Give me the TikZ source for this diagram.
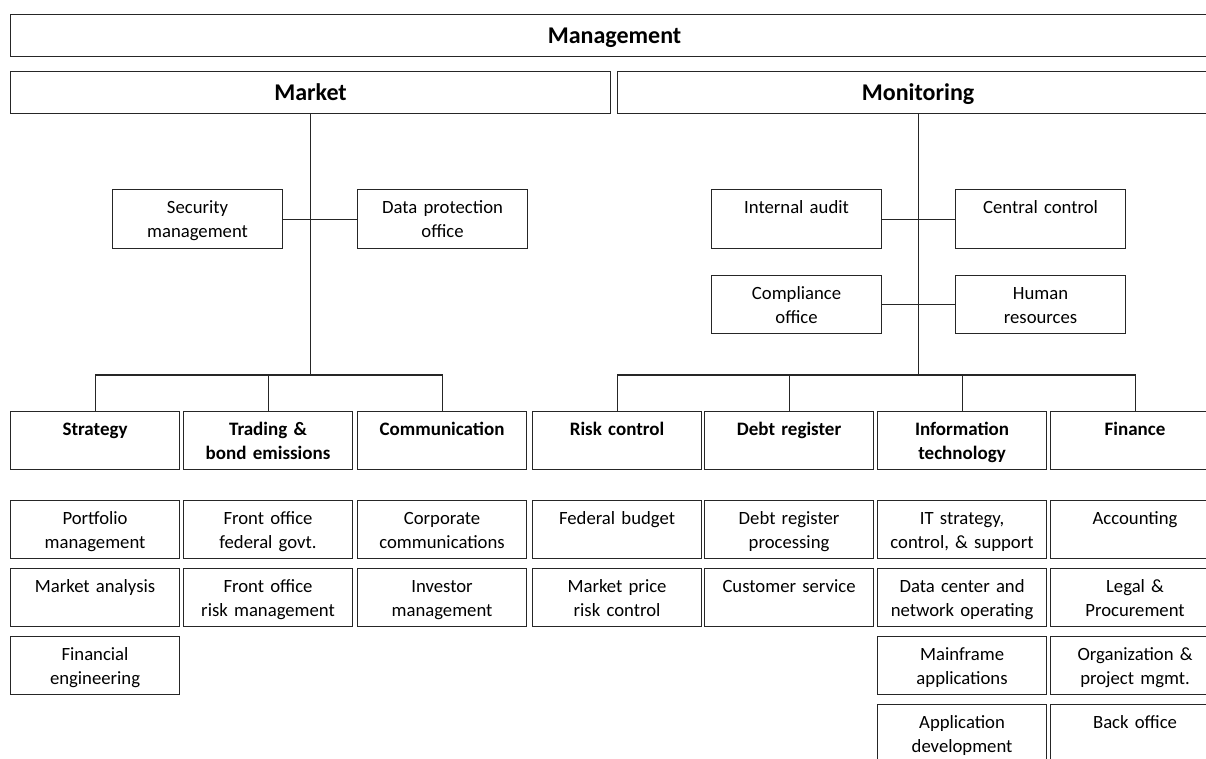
\documentclass[tikz,border=0pt]{standalone}
\usepackage{fontspec}
\setmainfont{Carlito}
\tikzset{
  conn/.style={draw=black!85, line width=1.1pt},
  box/.style={draw=black!85, line width=1.1pt, inner sep=0pt, anchor=north west,
    text width=169pt, align=center, text height=24pt, text depth=34pt,
    font=\fontsize{18.7}{23.5}\selectfont},
  headbox/.style={box, font=\bfseries\fontsize{19}{23.5}\selectfont},
  sidebox/.style={box, text width=170pt, text depth=35pt},
  topbox/.style={draw=black!85, line width=1.1pt, inner sep=0pt, anchor=north west,
    align=center, text height=29pt, text depth=13pt,
    font=\bfseries\fontsize{24}{28}\selectfont}
}
\begin{document}
\begin{tikzpicture}[x=1pt,y=-1pt]
\useasboundingbox (0,0) rectangle (1206,758);
\clip (0,0) rectangle (1206,758);
% top level
\node[topbox, text width=1208pt] (mgmt) at (10,14) {Management};
\node[topbox, text width=600pt] (market) at (10,71) {Market};
\node[topbox, text width=601pt] (mon) at (617,71) {Monitoring};
% staff boxes
\node[sidebox] (sec) at (112,189) {Security\\management};
\node[sidebox] (dpo) at (357,189) {Data protection\\office};
\node[sidebox] (ia) at (711,189) {Internal audit};
\node[sidebox] (cc) at (955,189) {Central control};
\node[sidebox, text depth=34pt] (co) at (711,275) {Compliance\\office};
\node[sidebox, text depth=34pt] (hr) at (955,275) {Human\\resources};
% departments
\node[headbox] (strat) at (10,411) {Strategy};
\node[headbox] (trad) at (183,411) {Trading \&\\bond emissions};
\node[headbox] (comm) at (357,411) {Communication};
\node[headbox] (risk) at (532,411) {Risk control};
\node[headbox] (debt) at (704,411) {Debt register};
\node[headbox] (it) at (877,411) {Information\\technology};
\node[headbox] (fin) at (1050,411) {Finance};
% units
\node[box] (s1) at (10,500) {Portfolio\\management};
\node[box] (s2) at (10,568) {Market analysis};
\node[box] (s3) at (10,636) {Financial\\engineering};
\node[box] (t1) at (183,500) {Front office\\federal govt.};
\node[box] (t2) at (183,568) {Front office\\risk management};
\node[box] (k1) at (357,500) {Corporate\\communications};
\node[box] (k2) at (357,568) {Investor\\management};
\node[box] (r1) at (532,500) {Federal budget};
\node[box] (r2) at (532,568) {Market price\\risk control};
\node[box] (d1) at (704,500) {Debt register\\processing};
\node[box] (d2) at (704,568) {Customer service};
\node[box] (i1) at (877,500) {IT strategy,\\control, \& support};
\node[box] (i2) at (877,568) {Data center and\\network operating};
\node[box] (i3) at (877,636) {Mainframe\\applications};
\node[box] (i4) at (877,704) {Application\\development};
\node[box] (f1) at (1050,500) {Accounting};
\node[box] (f2) at (1050,568) {Legal \&\\Procurement};
\node[box] (f3) at (1050,636) {Organization \&\\project mgmt.};
\node[box] (f4) at (1050,704) {Back office};
% connectors
\coordinate (mb) at (market.south |- 0,375);
\coordinate (nb) at (mon.south |- 0,375);
\draw[conn] (market.south) -- (mb);
\draw[conn] (strat.north) |- (mb) -| (comm.north);
\draw[conn] (trad.north) -- (trad.north |- mb);
\draw[conn] (sec.east) -- (dpo.west);
\draw[conn] (mon.south) -- (nb);
\draw[conn] (risk.north) |- (nb) -| (fin.north);
\draw[conn] (debt.north) -- (debt.north |- nb);
\draw[conn] (it.north) -- (it.north |- nb);
\draw[conn] (ia.east) -- (cc.west);
\draw[conn] (co.east) -- (hr.west);
\end{tikzpicture}
\end{document}
